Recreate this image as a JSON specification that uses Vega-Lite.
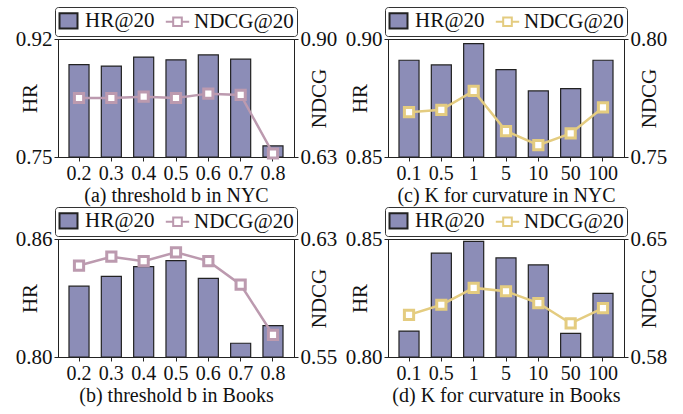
{
  "$schema": "https://vega.github.io/schema/vega-lite/v6.json",
  "padding": {"left": 14, "top": 6, "right": 5, "bottom": 5},
  "config": {
    "font": "Liberation Serif",
    "view": {"stroke": "#222", "strokeWidth": 1},
    "axis": {"labelFont": "Liberation Serif", "titleFont": "Liberation Serif", "grid": false, "domainColor": "#222", "tickColor": "#222", "labelColor": "#111", "titleColor": "#111", "titleFontWeight": "normal"},
    "legend": {"layout": {"top": {"anchor": "middle"}}, "title": null, "orient": "top", "direction": "horizontal", "offset": 3, "symbolSize": 324, "labelFontSize": 21, "labelFont": "Liberation Serif", "labelColor": "#111", "labelOffset": 6, "columnPadding": 6, "padding": 3, "strokeColor": "#333", "cornerRadius": 3, "fillColor": "white", "symbolStrokeWidth": 2, "symbolOpacity": 1}
  },
  "datasets": {
    "a": [
      {"param": "0.2", "HR": 0.883, "NDCG": 0.765},
      {"param": "0.3", "HR": 0.881, "NDCG": 0.765},
      {"param": "0.4", "HR": 0.894, "NDCG": 0.768},
      {"param": "0.5", "HR": 0.890, "NDCG": 0.765},
      {"param": "0.6", "HR": 0.897, "NDCG": 0.775},
      {"param": "0.7", "HR": 0.891, "NDCG": 0.772},
      {"param": "0.8", "HR": 0.766, "NDCG": 0.638}
    ],
    "c": [
      {"param": "0.1", "HR": 0.891, "NDCG": 0.769},
      {"param": "0.5", "HR": 0.889, "NDCG": 0.770},
      {"param": "1", "HR": 0.898, "NDCG": 0.778},
      {"param": "5", "HR": 0.887, "NDCG": 0.761},
      {"param": "10", "HR": 0.878, "NDCG": 0.755},
      {"param": "50", "HR": 0.879, "NDCG": 0.760},
      {"param": "100", "HR": 0.891, "NDCG": 0.771}
    ],
    "b": [
      {"param": "0.2", "HR": 0.836, "NDCG": 0.612},
      {"param": "0.3", "HR": 0.841, "NDCG": 0.618},
      {"param": "0.4", "HR": 0.846, "NDCG": 0.615},
      {"param": "0.5", "HR": 0.849, "NDCG": 0.621},
      {"param": "0.6", "HR": 0.840, "NDCG": 0.615},
      {"param": "0.7", "HR": 0.807, "NDCG": 0.599},
      {"param": "0.8", "HR": 0.816, "NDCG": 0.565}
    ],
    "d": [
      {"param": "0.1", "HR": 0.811, "NDCG": 0.605},
      {"param": "0.5", "HR": 0.844, "NDCG": 0.611},
      {"param": "1", "HR": 0.849, "NDCG": 0.621},
      {"param": "5", "HR": 0.842, "NDCG": 0.619},
      {"param": "10", "HR": 0.839, "NDCG": 0.612},
      {"param": "50", "HR": 0.810, "NDCG": 0.600},
      {"param": "100", "HR": 0.827, "NDCG": 0.609}
    ]
  },
  "columns": 2,
  "spacing": {"row": 0, "column": 6},
  "resolve": {"scale": {"fill": "independent", "stroke": "independent", "shape": "independent"}, "legend": {"fill": "independent", "stroke": "independent", "shape": "independent"}},
  "concat": [
    {
      "width": 236, "height": 118,
      "data": {"name": "a"},
      "encoding": {
        "x": {"field": "param", "type": "ordinal", "sort": null, "scale": {"paddingInner": 0.38, "paddingOuter": 0.34},
              "axis": {"title": "(a) threshold b in NYC", "labelAngle": 0, "labelFontSize": 20, "titleFontSize": 20, "tickSize": 4, "labelPadding": 2, "titlePadding": 2}}
      },
      "layer": [
        {
          "mark": {"type": "bar", "strokeWidth": 1.2},
          "encoding": {
            "y": {"field": "HR", "type": "quantitative", "scale": {"domain": [0.75, 0.92], "zero": false, "nice": false},
                  "axis": {"title": "HR", "values": [0.75, 0.92], "format": ".2f", "labelFontSize": 21, "titleFontSize": 21, "tickSize": 4, "labelPadding": 2, "titleX": -28, "titleY": 59, "titleAngle": 270, "titleAlign": "center", "titleBaseline": "middle"}},
            "y2": {"datum": 0.75},
            "fill": {"datum": "HR@20", "type": "nominal", "scale": {"domain": ["HR@20", "NDCG@20"], "range": ["#8c8db7", "white"]}},
            "stroke": {"datum": "HR@20", "type": "nominal", "scale": {"domain": ["HR@20", "NDCG@20"], "range": ["#222", "#bc9aaf"]}}
          }
        },
        {
          "encoding": {
            "y": {"field": "NDCG", "type": "quantitative", "scale": {"domain": [0.63, 0.90], "zero": false, "nice": false},
                  "axis": {"orient": "right", "title": "NDCG", "values": [0.63, 0.90], "format": ".2f", "labelFontSize": 21, "titleFontSize": 21, "tickSize": 4, "labelPadding": 2, "titleX": 25, "titleY": 59, "titleAngle": 270, "titleAlign": "center", "titleBaseline": "middle"}}
          },
          "layer": [
            {"mark": {"type": "line", "strokeWidth": 2.5},
             "encoding": {"stroke": {"datum": "NDCG@20", "type": "nominal", "scale": {"domain": ["HR@20", "NDCG@20"], "range": ["#222", "#bc9aaf"]}}}},
            {"mark": {"type": "point", "shape": "square", "filled": true, "size": 85, "strokeWidth": 3, "opacity": 1},
             "encoding": {
               "stroke": {"datum": "NDCG@20", "type": "nominal", "scale": {"domain": ["HR@20", "NDCG@20"], "range": ["#222", "#bc9aaf"]}},
               "fill": {"datum": "NDCG@20", "type": "nominal", "scale": {"domain": ["HR@20", "NDCG@20"], "range": ["#8c8db7", "white"]}}
             }},
            {"mark": {"type": "point", "opacity": 0},
             "encoding": {"shape": {"datum": "NDCG@20", "type": "nominal", "scale": {"domain": ["HR@20", "NDCG@20"], "range": ["M-1,-0.85H1V0.85H-1Z", "M-1.3,0H-0.48M0.48,0H1.3M-0.48,-0.48H0.48V0.48H-0.48Z"]}}}}
          ]
        }
      ],
      "resolve": {"scale": {"y": "independent"}}
    },
    {
      "width": 236, "height": 118,
      "data": {"name": "c"},
      "encoding": {
        "x": {"field": "param", "type": "ordinal", "sort": null, "scale": {"paddingInner": 0.38, "paddingOuter": 0.34},
              "axis": {"title": "(c) K for curvature in NYC", "labelAngle": 0, "labelFontSize": 20, "titleFontSize": 20, "tickSize": 4, "labelPadding": 2, "titlePadding": 2}}
      },
      "layer": [
        {
          "mark": {"type": "bar", "strokeWidth": 1.2},
          "encoding": {
            "y": {"field": "HR", "type": "quantitative", "scale": {"domain": [0.85, 0.90], "zero": false, "nice": false},
                  "axis": {"title": "HR", "values": [0.85, 0.90], "format": ".2f", "labelFontSize": 21, "titleFontSize": 21, "tickSize": 4, "labelPadding": 2, "titleX": -28, "titleY": 59, "titleAngle": 270, "titleAlign": "center", "titleBaseline": "middle"}},
            "y2": {"datum": 0.85},
            "fill": {"datum": "HR@20", "type": "nominal", "scale": {"domain": ["HR@20", "NDCG@20"], "range": ["#8c8db7", "white"]}},
            "stroke": {"datum": "HR@20", "type": "nominal", "scale": {"domain": ["HR@20", "NDCG@20"], "range": ["#222", "#e4cc80"]}}
          }
        },
        {
          "encoding": {
            "y": {"field": "NDCG", "type": "quantitative", "scale": {"domain": [0.75, 0.80], "zero": false, "nice": false},
                  "axis": {"orient": "right", "title": "NDCG", "values": [0.75, 0.80], "format": ".2f", "labelFontSize": 21, "titleFontSize": 21, "tickSize": 4, "labelPadding": 2, "titleX": 25, "titleY": 59, "titleAngle": 270, "titleAlign": "center", "titleBaseline": "middle"}}
          },
          "layer": [
            {"mark": {"type": "line", "strokeWidth": 2.5},
             "encoding": {"stroke": {"datum": "NDCG@20", "type": "nominal", "scale": {"domain": ["HR@20", "NDCG@20"], "range": ["#222", "#e4cc80"]}}}},
            {"mark": {"type": "point", "shape": "square", "filled": true, "size": 85, "strokeWidth": 3, "opacity": 1},
             "encoding": {
               "stroke": {"datum": "NDCG@20", "type": "nominal", "scale": {"domain": ["HR@20", "NDCG@20"], "range": ["#222", "#e4cc80"]}},
               "fill": {"datum": "NDCG@20", "type": "nominal", "scale": {"domain": ["HR@20", "NDCG@20"], "range": ["#8c8db7", "white"]}}
             }},
            {"mark": {"type": "point", "opacity": 0},
             "encoding": {"shape": {"datum": "NDCG@20", "type": "nominal", "scale": {"domain": ["HR@20", "NDCG@20"], "range": ["M-1,-0.85H1V0.85H-1Z", "M-1.3,0H-0.48M0.48,0H1.3M-0.48,-0.48H0.48V0.48H-0.48Z"]}}}}
          ]
        }
      ],
      "resolve": {"scale": {"y": "independent"}}
    },
    {
      "width": 236, "height": 118,
      "data": {"name": "b"},
      "encoding": {
        "x": {"field": "param", "type": "ordinal", "sort": null, "scale": {"paddingInner": 0.38, "paddingOuter": 0.34},
              "axis": {"title": "(b) threshold b in Books", "labelAngle": 0, "labelFontSize": 20, "titleFontSize": 20, "tickSize": 4, "labelPadding": 2, "titlePadding": 2}}
      },
      "layer": [
        {
          "mark": {"type": "bar", "strokeWidth": 1.2},
          "encoding": {
            "y": {"field": "HR", "type": "quantitative", "scale": {"domain": [0.80, 0.86], "zero": false, "nice": false},
                  "axis": {"title": "HR", "values": [0.80, 0.86], "format": ".2f", "labelFontSize": 21, "titleFontSize": 21, "tickSize": 4, "labelPadding": 2, "titleX": -28, "titleY": 59, "titleAngle": 270, "titleAlign": "center", "titleBaseline": "middle"}},
            "y2": {"datum": 0.80},
            "fill": {"datum": "HR@20", "type": "nominal", "scale": {"domain": ["HR@20", "NDCG@20"], "range": ["#8c8db7", "white"]}},
            "stroke": {"datum": "HR@20", "type": "nominal", "scale": {"domain": ["HR@20", "NDCG@20"], "range": ["#222", "#bc9aaf"]}}
          }
        },
        {
          "encoding": {
            "y": {"field": "NDCG", "type": "quantitative", "scale": {"domain": [0.55, 0.63], "zero": false, "nice": false},
                  "axis": {"orient": "right", "title": "NDCG", "values": [0.55, 0.63], "format": ".2f", "labelFontSize": 21, "titleFontSize": 21, "tickSize": 4, "labelPadding": 2, "titleX": 25, "titleY": 59, "titleAngle": 270, "titleAlign": "center", "titleBaseline": "middle"}}
          },
          "layer": [
            {"mark": {"type": "line", "strokeWidth": 2.5},
             "encoding": {"stroke": {"datum": "NDCG@20", "type": "nominal", "scale": {"domain": ["HR@20", "NDCG@20"], "range": ["#222", "#bc9aaf"]}}}},
            {"mark": {"type": "point", "shape": "square", "filled": true, "size": 85, "strokeWidth": 3, "opacity": 1},
             "encoding": {
               "stroke": {"datum": "NDCG@20", "type": "nominal", "scale": {"domain": ["HR@20", "NDCG@20"], "range": ["#222", "#bc9aaf"]}},
               "fill": {"datum": "NDCG@20", "type": "nominal", "scale": {"domain": ["HR@20", "NDCG@20"], "range": ["#8c8db7", "white"]}}
             }},
            {"mark": {"type": "point", "opacity": 0},
             "encoding": {"shape": {"datum": "NDCG@20", "type": "nominal", "scale": {"domain": ["HR@20", "NDCG@20"], "range": ["M-1,-0.85H1V0.85H-1Z", "M-1.3,0H-0.48M0.48,0H1.3M-0.48,-0.48H0.48V0.48H-0.48Z"]}}}}
          ]
        }
      ],
      "resolve": {"scale": {"y": "independent"}}
    },
    {
      "width": 236, "height": 118,
      "data": {"name": "d"},
      "encoding": {
        "x": {"field": "param", "type": "ordinal", "sort": null, "scale": {"paddingInner": 0.38, "paddingOuter": 0.34},
              "axis": {"title": "(d) K for curvature in Books", "labelAngle": 0, "labelFontSize": 20, "titleFontSize": 20, "tickSize": 4, "labelPadding": 2, "titlePadding": 2}}
      },
      "layer": [
        {
          "mark": {"type": "bar", "strokeWidth": 1.2},
          "encoding": {
            "y": {"field": "HR", "type": "quantitative", "scale": {"domain": [0.80, 0.85], "zero": false, "nice": false},
                  "axis": {"title": "HR", "values": [0.80, 0.85], "format": ".2f", "labelFontSize": 21, "titleFontSize": 21, "tickSize": 4, "labelPadding": 2, "titleX": -28, "titleY": 59, "titleAngle": 270, "titleAlign": "center", "titleBaseline": "middle"}},
            "y2": {"datum": 0.80},
            "fill": {"datum": "HR@20", "type": "nominal", "scale": {"domain": ["HR@20", "NDCG@20"], "range": ["#8c8db7", "white"]}},
            "stroke": {"datum": "HR@20", "type": "nominal", "scale": {"domain": ["HR@20", "NDCG@20"], "range": ["#222", "#e4cc80"]}}
          }
        },
        {
          "encoding": {
            "y": {"field": "NDCG", "type": "quantitative", "scale": {"domain": [0.58, 0.65], "zero": false, "nice": false},
                  "axis": {"orient": "right", "title": "NDCG", "values": [0.58, 0.65], "format": ".2f", "labelFontSize": 21, "titleFontSize": 21, "tickSize": 4, "labelPadding": 2, "titleX": 25, "titleY": 59, "titleAngle": 270, "titleAlign": "center", "titleBaseline": "middle"}}
          },
          "layer": [
            {"mark": {"type": "line", "strokeWidth": 2.5},
             "encoding": {"stroke": {"datum": "NDCG@20", "type": "nominal", "scale": {"domain": ["HR@20", "NDCG@20"], "range": ["#222", "#e4cc80"]}}}},
            {"mark": {"type": "point", "shape": "square", "filled": true, "size": 85, "strokeWidth": 3, "opacity": 1},
             "encoding": {
               "stroke": {"datum": "NDCG@20", "type": "nominal", "scale": {"domain": ["HR@20", "NDCG@20"], "range": ["#222", "#e4cc80"]}},
               "fill": {"datum": "NDCG@20", "type": "nominal", "scale": {"domain": ["HR@20", "NDCG@20"], "range": ["#8c8db7", "white"]}}
             }},
            {"mark": {"type": "point", "opacity": 0},
             "encoding": {"shape": {"datum": "NDCG@20", "type": "nominal", "scale": {"domain": ["HR@20", "NDCG@20"], "range": ["M-1,-0.85H1V0.85H-1Z", "M-1.3,0H-0.48M0.48,0H1.3M-0.48,-0.48H0.48V0.48H-0.48Z"]}}}}
          ]
        }
      ],
      "resolve": {"scale": {"y": "independent"}}
    }
  ]
}
